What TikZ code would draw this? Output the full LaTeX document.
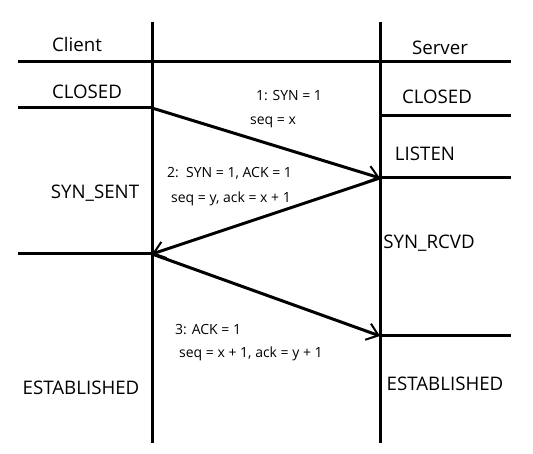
\documentclass[tikz,border=0pt]{standalone}
\usepackage{fontspec}
\setmainfont{Open Sans}
\usetikzlibrary{arrows.meta}
\tikzset{
  rule/.style={line width=3pt},
  msg/.style={line width=3pt,-{Straight Barb[length=11pt,width=17pt,line width=2pt]}, shorten >=0pt},
  state/.style={inner sep=0pt, anchor=base, font=\fontsize{18.7}{21}\selectfont},
  note/.style={inner sep=0pt, anchor=base, font=\fontsize{14}{16}\selectfont},
  notel/.style={note, anchor=base west},
}
\begin{document}
\begin{tikzpicture}[x=1pt,y=-1pt]
\useasboundingbox (0,0) rectangle (533,454);
% lifeline coordinates
\coordinate (ctop) at (152,22);
\coordinate (cbot) at (152,443);
\coordinate (stop) at (380,22);
\coordinate (sbot) at (380,443);
\coordinate (hl) at (18,62);
\coordinate (hr) at (511,62);
\coordinate (c1l) at (18,108);
\coordinate (c1) at (152,108);
\coordinate (c2l) at (18,254);
\coordinate (c2) at (152,254);
\coordinate (s0) at (380,116);
\coordinate (s0r) at (511,116);
\coordinate (s1) at (380,178);
\coordinate (s1r) at (511,178);
\coordinate (s2) at (380,336);
\coordinate (s2r) at (511,336);
% lines
\draw[rule] (ctop) -- (cbot);
\draw[rule] (stop) -- (sbot);
\draw[rule] (hl) -- (hr);
\draw[rule] (c1l) -- (c1);
\draw[rule] (c2l) -- (c2);
\draw[rule] (s0) -- (s0r);
\draw[rule] (s1) -- (s1r);
\draw[rule] (s2) -- (s2r);
% messages
\draw[msg] (c1) -- (s1);
\draw[msg] (s1) -- (c2);
\draw[msg] (c2) -- (s2);
% labels
\node[state] (client) at (77,52) {Client};
\node[state] (server) at (440,55) {Server};
\node[state] (cclosed) at (87,99) {CLOSED};
\node[state] (sclosed) at (437,104) {CLOSED};
\node[state] (listen) at (425,161) {LISTEN};
\node[state] (synsent) at (95,199) {SYN\_SENT};
\node[state] (synrcvd) at (429,249) {SYN\_RCVD};
\node[state] (cest) at (81,395) {ESTABLISHED};
\node[state] (sest) at (445,391) {ESTABLISHED};
\node[note] (m1a) at (289,101) {1: SYN = 1};
\node[note] (m1b) at (273,125) {seq = x};
\node[notel] (m2a) at (167,178) {2:\ \ SYN = 1, ACK = 1};
\node[notel] (m2b) at (171,203) {seq = y, ack = x + 1};
\node[notel] (m3a) at (175,335) {3: ACK = 1};
\node[notel] (m3b) at (179,358) {seq = x + 1, ack = y + 1};
\end{tikzpicture}
\end{document}
